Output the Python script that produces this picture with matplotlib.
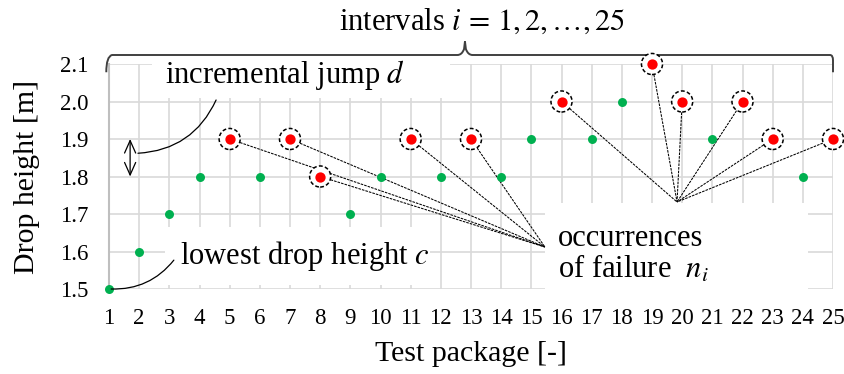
import numpy as np
import matplotlib.pyplot as plt
from matplotlib.patches import Rectangle
from matplotlib.path import Path
from matplotlib.patches import PathPatch

plt.rcParams['font.family'] = 'serif'
plt.rcParams['font.serif'] = ['Liberation Serif', 'DejaVu Serif']
plt.rcParams['mathtext.fontset'] = 'stix'

# staircase test results
package = list(range(1, 26))
height = [1.5, 1.6, 1.7, 1.8, 1.9, 1.8, 1.9, 1.8, 1.7, 1.8, 1.9, 1.8, 1.9,
          1.8, 1.9, 2.0, 1.9, 2.0, 2.1, 2.0, 1.9, 2.0, 1.9, 1.8, 1.9]
failed = [0, 0, 0, 0, 1, 0, 1, 1, 0, 0, 1, 0, 1,
          0, 0, 1, 0, 0, 1, 1, 0, 1, 1, 0, 1]
yticks = [1.5, 1.6, 1.7, 1.8, 1.9, 2.0, 2.1]

# where the failure pointer lines meet
hub_left = (15.45, 1.612)
hub_right = (19.83, 1.732)
left_group = [5, 7, 8, 11, 13]
right_group = [16, 19, 20, 22, 23, 25]

x = np.array(package)
y = np.array(height)
f = np.array(failed, dtype=bool)

fig = plt.figure(figsize=(8.44, 3.74), dpi=100)
ax = fig.add_axes([109/844, 1-289/374, (833-109)/844, (289-64)/374])

ax.set_xlim(1, 25)
ax.set_ylim(1.5, 2.1)
ax.set_xticks(package)
ax.set_yticks(yticks)
ax.set_yticklabels([f'{v:.1f}' for v in yticks])
ax.tick_params(length=0, labelsize=16.5)
ax.tick_params(axis='x', pad=13.5)
ax.tick_params(axis='y', pad=15)
ax.grid(True, color='#d9d9d9', lw=1.2, zorder=0)
ax.set_axisbelow(True)
for s in ['top', 'right', 'bottom']:
    ax.spines[s].set_visible(False)
ax.spines['left'].set_color('#bfbfbf')
ax.spines['left'].set_linewidth(1.5)

ax.set_xlabel('Test package [-]', fontsize=21.5, labelpad=9)
ax.set_ylabel('Drop height [m]', fontsize=21.5, labelpad=14)

# white boxes behind the labels hide the grid
for (x0, y0, x1, y1) in [(2.43, 2.01, 12.3, 2.13),
                         (2.86, 1.51, 11.64, 1.665),
                         (15.45, 1.49, 24.17, 1.73)]:
    ax.add_patch(Rectangle((x0, y0), x1-x0, y1-y0, facecolor='white',
                           edgecolor='none', zorder=1, clip_on=False))

# dashed pointer lines to the failures
for hub, group in [(hub_left, left_group), (hub_right, right_group)]:
    for p in group:
        ax.plot([p, hub[0]], [height[p-1], hub[1]], color='black', lw=0.75,
                ls=(0, (2.5, 1)), zorder=2)

ax.scatter(x[~f], y[~f], s=42, color='#00b050', zorder=3, lw=0,
           clip_on=False)
ax.scatter(x[f], y[f], s=230, facecolor='white', edgecolor='black', lw=1.1,
           linestyle=(0, (2.5, 1.5)), zorder=3, clip_on=False)
ax.scatter(x[f], y[f], s=55, color='#ff0000', zorder=4, lw=0, clip_on=False)

# curly brace over all intervals
brace = Path([(1.0-0.09, 2.078), (1.0-0.09, 2.12), (1.1, 2.124), (1.3, 2.124),
              (12.55, 2.124), (12.7, 2.124), (12.77, 2.14), (12.8, 2.16),
              (12.83, 2.14), (12.9, 2.124), (13.05, 2.124),
              (24.9, 2.124), (25.0, 2.124), (25.0, 2.11), (25.0, 2.078)],
             [Path.MOVETO, Path.CURVE3, Path.CURVE3, Path.LINETO,
              Path.LINETO, Path.CURVE3, Path.CURVE3, Path.LINETO,
              Path.LINETO, Path.CURVE3, Path.CURVE3,
              Path.LINETO, Path.CURVE3, Path.CURVE3, Path.LINETO])
ax.add_patch(PathPatch(brace, facecolor='none', edgecolor='#404040', lw=1.4,
                       clip_on=False, zorder=2))

fig.text(482/844, 1-22/374, r'intervals $i\,=\,1, 2, \ldots, 25$',
         fontsize=22, ha='center', va='center')

ax.text(2.86, 2.071, r'incremental jump $d$', fontsize=22, va='center',
        zorder=5)
ax.text(3.35, 1.588, r'lowest drop height $c$', fontsize=22, va='center',
        zorder=5)
ax.text(15.88, 1.592, 'occurrences\n' + r'of failure  $n_i$', fontsize=22,
        va='center', linespacing=1.0, zorder=5)

# incremental jump arrow and callouts
ax.annotate('', xy=(1.70, 1.8), xytext=(1.70, 1.9),
            arrowprops=dict(arrowstyle='<->,head_length=0.9,head_width=0.4',
                            color='black', lw=0.9, shrinkA=0, shrinkB=0),
            zorder=5)
ax.annotate('', xy=(1.96, 1.862), xytext=(4.55, 2.004),
            arrowprops=dict(arrowstyle='-', color='black', lw=0.9,
                            shrinkA=0, shrinkB=0,
                            connectionstyle='arc3,rad=-0.3'), zorder=5)
ax.annotate('', xy=(1.07, 1.5), xytext=(3.15, 1.577),
            arrowprops=dict(arrowstyle='-', color='black', lw=0.9,
                            shrinkA=0, shrinkB=0,
                            connectionstyle='arc3,rad=-0.25'), zorder=5)

fig.savefig('out.png', dpi=100)
